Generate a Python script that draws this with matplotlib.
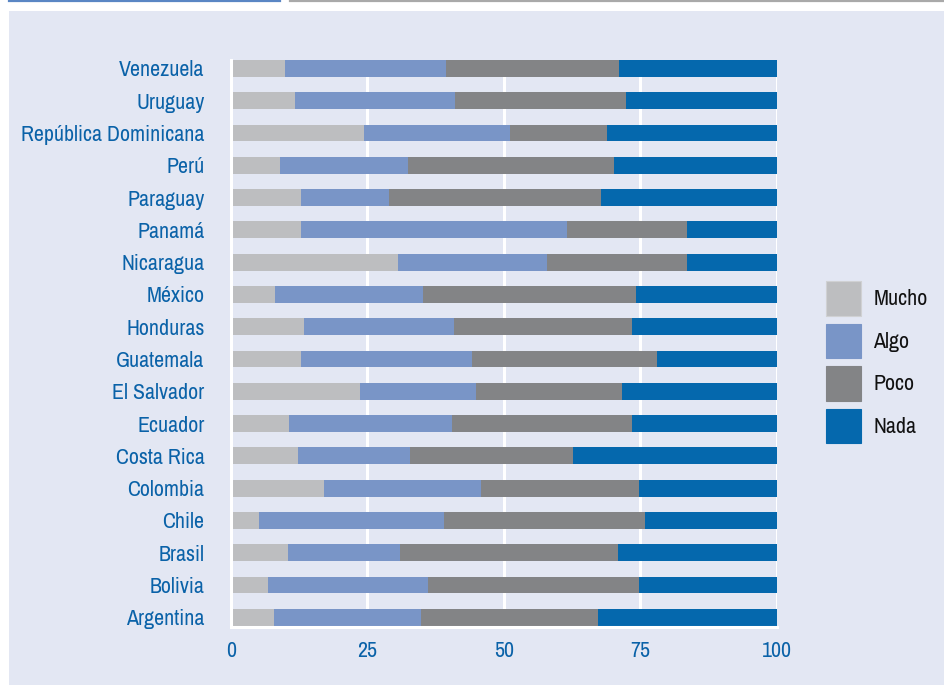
import matplotlib
matplotlib.use("Agg")
import matplotlib.pyplot as plt
from matplotlib import font_manager
from matplotlib.patches import Rectangle, Patch
from matplotlib.lines import Line2D

# prefer a narrow sans face if one is available
_names = sorted({f.name for f in font_manager.fontManager.ttflist})
_narrow = [n for n in _names if ("Narrow" in n or "Condensed" in n)]
_stretch = [f for f in font_manager.fontManager.ttflist
            if f.name == "DejaVu Sans" and f.stretch == "condensed"]
if _narrow:
    plt.rcParams['font.family'] = [_narrow[0], 'DejaVu Sans']
    FONT_SIZE = 15.8
else:
    plt.rcParams['font.family'] = ['DejaVu Sans']
    if _stretch:
        plt.rcParams['font.stretch'] = 'condensed'
        FONT_SIZE = 14
    else:
        FONT_SIZE = 12.5

countries = ["Argentina", "Bolivia", "Brasil", "Chile", "Colombia", "Costa Rica",
             "Ecuador", "El Salvador", "Guatemala", "Honduras", "México", "Nicaragua",
             "Panamá", "Paraguay", "Perú", "República Dominicana", "Uruguay", "Venezuela"]

mucho = [7.8, 6.8, 10.4, 5.2, 17.0, 12.2, 10.6, 23.6, 12.9, 13.3, 8.0, 30.6,
         12.9, 12.9, 8.9, 24.3, 11.7, 9.8]
algo = [27.0, 29.3, 20.6, 33.8, 28.8, 20.6, 29.9, 21.3, 31.2, 27.6, 27.1, 27.3,
        48.7, 16.0, 23.5, 26.8, 29.3, 29.6]
poco = [32.5, 38.6, 39.9, 36.9, 29.0, 29.9, 32.9, 26.8, 34.0, 32.6, 39.0, 25.7,
        22.0, 38.8, 37.8, 17.8, 31.3, 31.7]
nada = [32.7, 25.3, 29.1, 24.1, 25.2, 37.3, 26.6, 28.3, 21.9, 26.5, 25.9, 16.4,
        16.4, 32.3, 29.8, 31.1, 27.7, 28.9]

series_names = ["Mucho", "Algo", "Poco", "Nada"]
colors = ["#bdbec0", "#7995c7", "#838486", "#0568ad"]
x_ticks = [0, 25, 50, 75, 100]

panel_color = "#e3e7f3"
label_color = "#0a62a8"

fig = plt.figure(figsize=(9.45, 6.85), dpi=100)

# framed panel with the two-tone rule above it
fig.patches.append(Rectangle((9 / 945, 0), 1 - 9 / 945, 1 - 11 / 685,
                             transform=fig.transFigure, facecolor=panel_color,
                             edgecolor="none", zorder=-5))
fig.lines.append(Line2D([9 / 945, 280 / 945], [1 - 0.7 / 685] * 2,
                        transform=fig.transFigure, color="#5a86c4", lw=1.6))
fig.lines.append(Line2D([290 / 945, 1.0], [1 - 0.7 / 685] * 2,
                        transform=fig.transFigure, color="#a9a9a9", lw=1.6))

ax = fig.add_axes([231 / 945, 1 - 627 / 685, (777 - 231) / 945, (627 - 60) / 685])
ax.set_facecolor("none")

ypos = list(range(len(countries)))
left = [0.0] * len(countries)
for name, vals, col in zip(series_names, [mucho, algo, poco, nada], colors):
    ax.barh(ypos, vals, left=left, height=0.52, color=col, label=name, zorder=2)
    left = [l + v for l, v in zip(left, vals)]

ax.set_xlim(0, 100)
ax.set_ylim(-0.3, len(countries) - 1 + 0.26)
ax.set_xticks(x_ticks)
ax.set_xticklabels([str(t) for t in x_ticks])
ax.set_yticks(ypos)
ax.set_yticklabels(countries)

ax.tick_params(axis="both", length=0, labelsize=FONT_SIZE, labelcolor=label_color)
ax.tick_params(axis="y", pad=19)
ax.tick_params(axis="x", pad=10)

ax.xaxis.grid(True, color="white", lw=2.2, zorder=1)
ax.set_axisbelow(True)
for s in ["top", "right"]:
    ax.spines[s].set_visible(False)
for s in ["left", "bottom"]:
    ax.spines[s].set_color("white")
    ax.spines[s].set_linewidth(2.2)

handles = [Patch(facecolor=c, edgecolor=("#d0d1d3" if i == 0 else c), lw=0.8)
           for i, c in enumerate(colors)]
leg = fig.legend(handles, series_names, loc="upper left",
                 bbox_to_anchor=(826 / 945, 1 - 281 / 685), frameon=False,
                 fontsize=FONT_SIZE, handlelength=1.6, handleheight=2.05,
                 handletextpad=0.55, labelspacing=0.36, borderpad=0, borderaxespad=0,
                 labelcolor="#111111")

fig.savefig("out.png", dpi=100, facecolor="white")
